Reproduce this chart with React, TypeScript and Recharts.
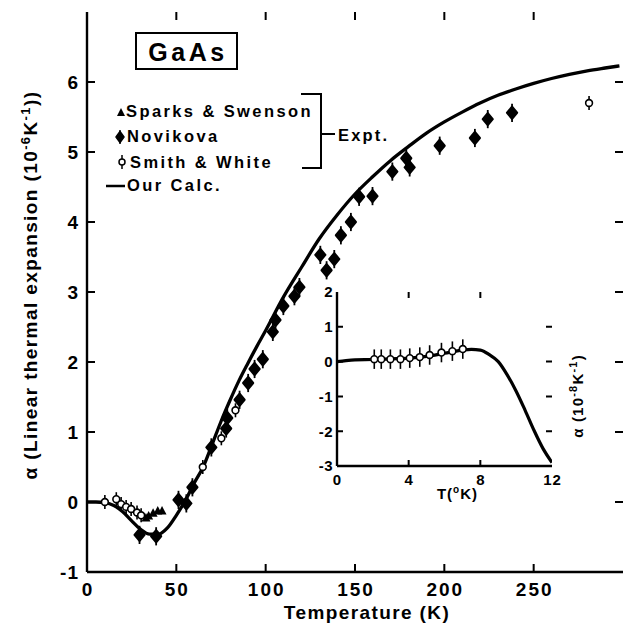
import React from 'react';
import { ComposedChart, Line, Scatter, XAxis, YAxis, ErrorBar } from 'recharts';

// ---------- main panel data ----------
const calcT = [0, 5, 10, 15, 20, 25, 30, 35, 40, 45, 50, 55, 60, 65, 70, 75, 80, 85, 90, 95, 100, 110, 120, 130, 140, 150, 160, 170, 180, 190, 200, 210, 220, 230, 240, 250, 260, 270, 280, 290, 298];
const calcA = [0, 0, -0.01, -0.05, -0.14, -0.27, -0.39, -0.46, -0.46, -0.37, -0.19, 0.02, 0.27, 0.5, 0.82, 1.15, 1.45, 1.73, 1.98, 2.22, 2.45, 2.93, 3.35, 3.76, 4.1, 4.4, 4.65, 4.88, 5.08, 5.27, 5.43, 5.57, 5.7, 5.81, 5.9, 5.98, 6.05, 6.11, 6.16, 6.2, 6.23];

const sparksT = [33, 34.5, 37, 39.6, 42];
const sparksA = [-0.23, -0.2, -0.16, -0.13, -0.13];

const noviT = [29.4, 38.7, 51.2, 55.6, 59, 69.6, 77.9, 78.5, 85.4, 90.2, 93.8, 98.4, 104, 105.5, 109.9, 116.1, 118.9, 130.6, 134.1, 138.4, 142.1, 147.7, 152.3, 159.8, 170.9, 178.7, 180.6, 197.4, 217.1, 224.3, 237.9];
const noviA = [-0.47, -0.49, 0.03, -0.02, 0.21, 0.78, 1.05, 1.2, 1.46, 1.7, 1.9, 2.04, 2.43, 2.6, 2.8, 2.94, 3.07, 3.53, 3.31, 3.47, 3.81, 4.0, 4.36, 4.37, 4.72, 4.91, 4.78, 5.09, 5.2, 5.47, 5.56];
const noviErr = 0.13;

const smithT = [10, 16.4, 19.1, 21.9, 24.7, 28, 30.3, 64.8, 75.2, 83.1, 281];
const smithA = [0, 0.04, -0.03, -0.07, -0.1, -0.15, -0.19, 0.5, 0.91, 1.31, 5.7];
const smithErr = 0.1;

const xDomain = [0, 300];
const yDomain = [-1, 7];
const xTicks = [0, 50, 100, 150, 200, 250];
const xInnerTicks = [50, 100, 150, 200, 250];
const yTicks = [-1, 0, 1, 2, 3, 4, 5, 6];
const yInnerTicks = [0, 1, 2, 3, 4, 5, 6];

// ---------- inset data ----------
const insetCalcT = [0, 0.5, 1, 2, 3, 4, 5, 6, 7, 7.5, 8, 8.5, 9, 9.5, 10, 10.5, 11, 11.5, 12];
const insetCalcA = [0, 0.03, 0.05, 0.06, 0.08, 0.1, 0.15, 0.24, 0.33, 0.35, 0.33, 0.2, 0.0, -0.38, -0.85, -1.4, -1.98, -2.5, -2.9];
const insetSmithT = [2.08, 2.47, 2.98, 3.54, 4.06, 4.62, 5.17, 5.83, 6.44, 7.02];
const insetSmithA = [0.07, 0.07, 0.07, 0.07, 0.1, 0.13, 0.19, 0.26, 0.3, 0.36];
const insetErr = 0.28;
const insetXDomain = [0, 12];
const insetYDomain = [-3, 2];
const insetXTicks = [0, 4, 8, 12];
const insetXInnerTicks = [4, 8];
const insetYTicks = [-3, -2, -1, 0, 1, 2];
const insetYInnerTicks = [-2, -1, 0, 1];

const calcData = calcT.map((t, i) => ({ t, a: calcA[i] }));
const sparksData = sparksT.map((t, i) => ({ t, a: sparksA[i] }));
const noviData = noviT.map((t, i) => ({ t, a: noviA[i], e: noviErr }));
const smithData = smithT.map((t, i) => ({ t, a: smithA[i], e: smithErr }));
const insetCalcData = insetCalcT.map((t, i) => ({ t, a: insetCalcA[i] }));
const insetSmithData = insetSmithT.map((t, i) => ({ t, a: insetSmithA[i], e: insetErr }));

const FONT = '"Liberation Sans", Arial, Helvetica, sans-serif';
const INK = '#000';

// ---------- layout ----------
const MAIN = { w: 626, h: 628, m: { top: 12, right: 3, bottom: 0, left: 0 }, yw: 87, xh: 56 };
const INSET = { left: 290, top: 275, w: 310, h: 240, m: { top: 17, right: 48, bottom: 0, left: 0 }, yw: 47, xh: 49 };
const plotRect = (c: any, ox = 0, oy = 0) => ({
  l: ox + c.m.left + c.yw,
  r: ox + c.w - c.m.right,
  t: oy + c.m.top,
  b: oy + c.h - c.m.bottom - c.xh,
});
const mainRect = plotRect(MAIN);
const insetRect = plotRect(INSET, INSET.left, INSET.top);

// inward frame tick marks (axis decoration) for a plot rectangle
const frameTickPaths = (rc: any, xd: number[], yd: number[], xs: number[], ys: number[], len: number) => {
  const px = (v: number) => rc.l + ((v - xd[0]) / (xd[1] - xd[0])) * (rc.r - rc.l);
  const py = (v: number) => rc.b - ((v - yd[0]) / (yd[1] - yd[0])) * (rc.b - rc.t);
  let d = '';
  xs.forEach((v) => {
    const x = px(v);
    d += `M${x},${rc.b}V${rc.b - len}M${x},${rc.t}V${rc.t + len}`;
  });
  ys.forEach((v) => {
    const y = py(v);
    d += `M${rc.l},${y}H${rc.l + len}M${rc.r},${y}H${rc.r - len}`;
  });
  return d;
};

// ---------- marker shapes ----------
const NoviShape = (p: any) => {
  const { cx, cy } = p;
  if (cx == null || cy == null) return <g />;
  return (
    <polygon
      points={`${cx},${cy - 6} ${cx + 5},${cy} ${cx},${cy + 6} ${cx - 5},${cy}`}
      fill={INK}
      stroke={INK}
      strokeWidth={2.2}
      strokeLinejoin="round"
    />
  );
};
const SmithShape = (p: any) => {
  const { cx, cy } = p;
  if (cx == null || cy == null) return <g />;
  return <circle cx={cx} cy={cy} r={3.4} fill="#fff" stroke={INK} strokeWidth={1.6} />;
};
const TriShape = (p: any) => {
  const { cx, cy } = p;
  if (cx == null || cy == null) return <g />;
  return <polygon points={`${cx},${cy - 5} ${cx + 4.5},${cy + 3.5} ${cx - 4.5},${cy + 3.5}`} fill={INK} />;
};

// ---------- tick label renderers ----------
const makeBottomTick = (size: number, ls: number) => (p: any) => (
  <text x={Number(p.x) + ls / 2} y={p.y} dy="0.71em" textAnchor="middle" fontFamily={FONT} fontWeight={700}
    fontSize={size} letterSpacing={ls} fill={INK}>
    {p.payload.value}
  </text>
);
const makeLeftTick = (size: number, ls: number) => (p: any) => (
  <text x={p.x} y={p.y} dy="0.36em" textAnchor="end" fontFamily={FONT} fontWeight={700}
    fontSize={size} letterSpacing={ls} fill={INK}>
    {p.payload.value}
  </text>
);

const MainYLabel = (props: any) => {
  const vb = props.viewBox || { x: 0, y: 12, width: 87, height: 560 };
  const cx = vb.x + 37;
  const cy = vb.y + vb.height / 2 - 7;
  return (
    <text x={cx} y={cy} transform={`rotate(-90 ${cx} ${cy})`} textAnchor="middle" fontFamily={FONT}
      fontWeight={700} fontSize={19} letterSpacing={1.4} fill={INK}>
      <tspan>α (Linear thermal expansion (10</tspan>
      <tspan dy={-7} fontSize={13}>-6</tspan>
      <tspan dy={7}>K</tspan>
      <tspan dy={-7} fontSize={13}>-1</tspan>
      <tspan dy={7}>))</tspan>
    </text>
  );
};

const MainXLabel = (props: any) => {
  const vb = props.viewBox || { x: 87, y: 572, width: 536, height: 56 };
  return (
    <text x={vb.x + vb.width / 2 + 12} y={vb.y + 47} textAnchor="middle" fontFamily={FONT}
      fontWeight={700} fontSize={19} letterSpacing={1.4} fill={INK}>
      Temperature (K)
    </text>
  );
};

const InsetXLabel = (props: any) => {
  const vb = props.viewBox || { x: 47, y: 191, width: 215, height: 49 };
  return (
    <text x={vb.x + vb.width / 2 + 13} y={vb.y + 33} textAnchor="middle" fontFamily={FONT}
      fontWeight={700} fontSize={15} letterSpacing={1} fill={INK}>
      <tspan>T(</tspan>
      <tspan dy={-6} fontSize={10}>o</tspan>
      <tspan dy={6}>K)</tspan>
    </text>
  );
};

const axisLine = { stroke: INK, strokeWidth: 2.4 };

const Overlay = () => (
  <svg width={626} height={628} style={{ position: 'absolute', left: 0, top: 0, pointerEvents: 'none' }}>
    {/* inward tick marks on all four sides of both frames */}
    <path d={frameTickPaths(mainRect, xDomain, yDomain, xInnerTicks, yInnerTicks, 8)} stroke={INK} strokeWidth={2} fill="none" />
    <path d={frameTickPaths(insetRect, insetXDomain, insetYDomain, insetXInnerTicks, insetYInnerTicks, 6)} stroke={INK} strokeWidth={2} fill="none" />

    <rect x={136} y={33} width={101} height={36} fill="#fff" stroke={INK} strokeWidth={2} />
    <text x={188} y={61} textAnchor="middle" fontFamily={FONT} fontWeight={700} fontSize={25}
      letterSpacing={3.5} fill={INK}>GaAs</text>

    <polygon points="121,108 125,116 117,116" fill={INK} />
    <text x={126} y={117} fontFamily={FONT} fontWeight={700} fontSize={16.5} letterSpacing={2.4} fill={INK}>
      Sparks &amp; Swenson
    </text>

    <line x1={120} y1={130} x2={120} y2={144} stroke={INK} strokeWidth={1.5} />
    <polygon points="120,131.5 124,137 120,142.5 116,137" fill={INK} stroke={INK} strokeWidth={1.5} strokeLinejoin="round" />
    <text x={127} y={142} fontFamily={FONT} fontWeight={700} fontSize={16.5} letterSpacing={2.4} fill={INK}>
      Novikova
    </text>

    <line x1={122} y1={155} x2={122} y2={169} stroke={INK} strokeWidth={1.5} />
    <circle cx={122} cy={162} r={3} fill="#fff" stroke={INK} strokeWidth={1.5} />
    <text x={130} y={168} fontFamily={FONT} fontWeight={700} fontSize={16.5} letterSpacing={2.4} fill={INK}>
      Smith &amp; White
    </text>

    <line x1={106} y1={186} x2={125} y2={186} stroke={INK} strokeWidth={2.5} />
    <text x={127} y={191} fontFamily={FONT} fontWeight={700} fontSize={16.5} letterSpacing={2.4} fill={INK}>
      Our Calc.
    </text>

    <path d="M301,94 H321 V168 H302 M321,134 H335" fill="none" stroke={INK} strokeWidth={2} />
    <text x={338} y={141} fontFamily={FONT} fontWeight={700} fontSize={16.5} letterSpacing={2.2} fill={INK}>
      Expt.
    </text>

    {/* inset right-hand axis title */}
    <text x={583} y={396} transform="rotate(-90 583 396)" textAnchor="middle" fontFamily={FONT}
      fontWeight={700} fontSize={15} letterSpacing={1.2} fill={INK}>
      <tspan>α (10</tspan>
      <tspan dy={-6} fontSize={11}>-8</tspan>
      <tspan dy={6}>K</tspan>
      <tspan dy={-6} fontSize={11}>-1</tspan>
      <tspan dy={6}>)</tspan>
    </text>
  </svg>
);

export default function App() {
  return (
    <div style={{ position: 'absolute', left: 0, top: 0, width: 626, height: 628, background: '#fff' }}>
      <ComposedChart width={MAIN.w} height={MAIN.h} margin={MAIN.m}>
        <XAxis xAxisId="b" type="number" dataKey="t" domain={xDomain} allowDataOverflow ticks={xTicks} interval={0}
          orientation="bottom" height={MAIN.xh} tickSize={0} tickMargin={11} axisLine={axisLine} tickLine={false}
          tick={makeBottomTick(19, 2)} label={{ content: MainXLabel }} />
        <XAxis xAxisId="t" type="number" dataKey="t" domain={xDomain} allowDataOverflow ticks={xInnerTicks} interval={0}
          orientation="top" height={0} axisLine={axisLine} tickLine={false} tick={false} />
        <YAxis yAxisId="l" type="number" dataKey="a" domain={yDomain} allowDataOverflow ticks={yTicks} interval={0}
          width={MAIN.yw} tickSize={0} tickMargin={8} axisLine={axisLine} tickLine={false}
          tick={makeLeftTick(19, 1)} label={{ content: MainYLabel }} />
        <YAxis yAxisId="r" type="number" dataKey="a" orientation="right" domain={yDomain} allowDataOverflow
          ticks={yInnerTicks} interval={0} width={0} axisLine={axisLine} tickLine={false} tick={false} />

        <Line xAxisId="b" yAxisId="l" data={calcData} dataKey="a" type="monotone" stroke={INK}
          strokeWidth={3.3} dot={false} activeDot={false} isAnimationActive={false} />
        <Scatter xAxisId="b" yAxisId="l" data={sparksData} dataKey="a" shape={TriShape} isAnimationActive={false} />
        <Scatter xAxisId="b" yAxisId="l" data={smithData} dataKey="a" shape={SmithShape} isAnimationActive={false}>
          <ErrorBar dataKey="e" direction="y" width={0} stroke={INK} strokeWidth={1.6} isAnimationActive={false} />
        </Scatter>
        <Scatter xAxisId="b" yAxisId="l" data={noviData} dataKey="a" shape={NoviShape} isAnimationActive={false}>
          <ErrorBar dataKey="e" direction="y" width={0} stroke={INK} strokeWidth={1.8} isAnimationActive={false} />
        </Scatter>
      </ComposedChart>

      <div style={{ position: 'absolute', left: INSET.left, top: INSET.top }}>
        <ComposedChart width={INSET.w} height={INSET.h} margin={INSET.m}>
          <XAxis xAxisId="b" type="number" dataKey="t" domain={insetXDomain} allowDataOverflow ticks={insetXTicks} interval={0}
            orientation="bottom" height={INSET.xh} tickSize={0} tickMargin={8} axisLine={axisLine} tickLine={false}
            tick={makeBottomTick(15, 1)} label={{ content: InsetXLabel }} />
          <XAxis xAxisId="t" type="number" dataKey="t" domain={insetXDomain} allowDataOverflow ticks={insetXInnerTicks} interval={0}
            orientation="top" height={0} axisLine={axisLine} tickLine={false} tick={false} />
          <YAxis yAxisId="l" type="number" dataKey="a" domain={insetYDomain} allowDataOverflow ticks={insetYTicks} interval={0}
            width={INSET.yw} tickSize={0} tickMargin={4} axisLine={axisLine} tickLine={false}
            tick={makeLeftTick(15, 0.5)} />
          <YAxis yAxisId="r" type="number" dataKey="a" orientation="right" domain={insetYDomain} allowDataOverflow
            ticks={insetYInnerTicks} interval={0} width={0} axisLine={axisLine} tickLine={false} tick={false} />

          <Line xAxisId="b" yAxisId="l" data={insetCalcData} dataKey="a" type="monotone" stroke={INK}
            strokeWidth={3.2} dot={false} activeDot={false} isAnimationActive={false} />
          <Scatter xAxisId="b" yAxisId="l" data={insetSmithData} dataKey="a" shape={SmithShape} isAnimationActive={false}>
            <ErrorBar dataKey="e" direction="y" width={0} stroke={INK} strokeWidth={1.6} isAnimationActive={false} />
          </Scatter>
        </ComposedChart>
      </div>

      <Overlay />
    </div>
  );
}
